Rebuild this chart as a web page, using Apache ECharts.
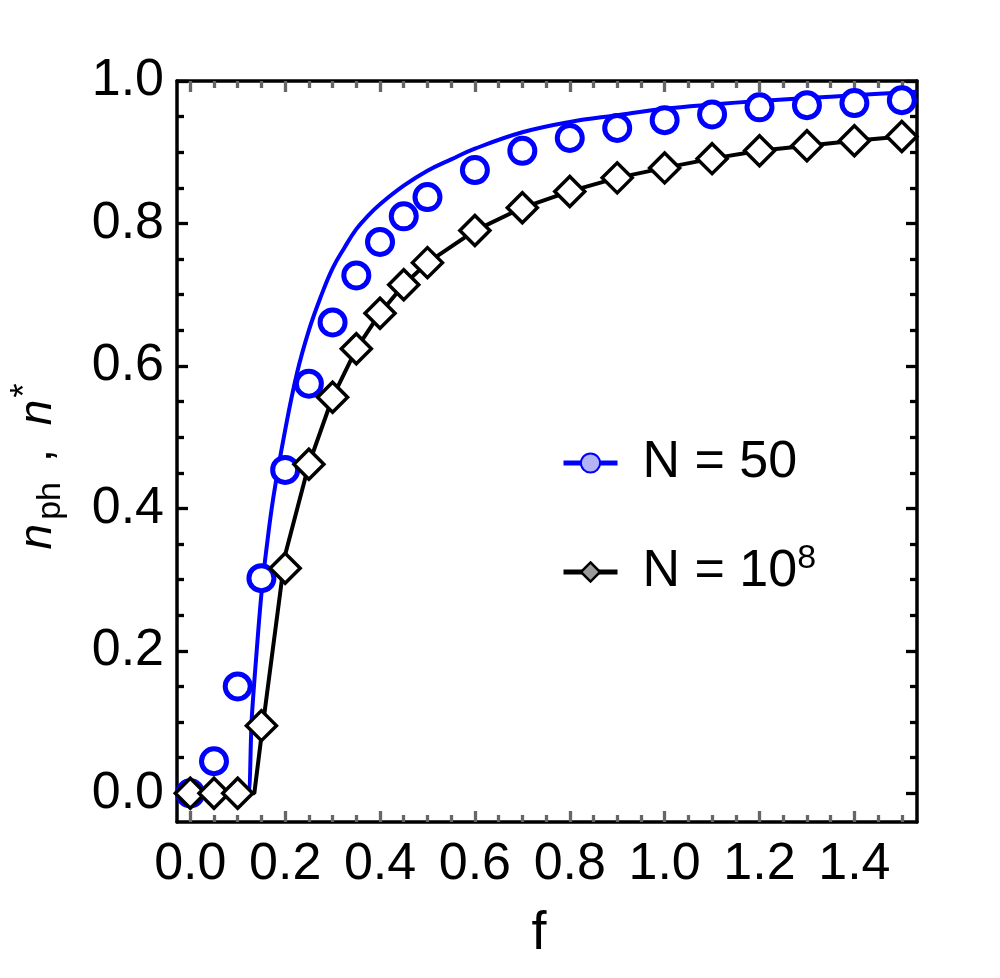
<!DOCTYPE html>
<html>
<head>
<meta charset="utf-8">
<script src="https://cdn.jsdelivr.net/npm/echarts@6.0.0/dist/echarts.min.js"></script>
<style>
  html, body { margin: 0; padding: 0; background: #fff; }
  #chart { width: 1000px; height: 978px; }
</style>
</head>
<body>
<div id="chart"></div>
<script>
// simulation points
const fPoints = [0, 0.05, 0.1, 0.15, 0.2, 0.25, 0.3, 0.35, 0.4, 0.45, 0.5, 0.6, 0.7, 0.8, 0.9, 1.0, 1.1, 1.2, 1.3, 1.4, 1.5];
const n50 = [0.0, 0.045, 0.150, 0.302, 0.454, 0.575, 0.661, 0.727, 0.774, 0.810, 0.837, 0.875, 0.902, 0.920, 0.934, 0.945, 0.953, 0.963, 0.966, 0.969, 0.973];
const nBig = [0, 0, 0, 0.095, 0.316, 0.462, 0.556, 0.624, 0.674, 0.714, 0.745, 0.790, 0.822, 0.845, 0.864, 0.878, 0.891, 0.902, 0.909, 0.916, 0.922];

// blue curve (N = 50)
const fCurve50 = [0, 0.112, 0.121, 0.13, 0.14, 0.15, 0.16, 0.175, 0.2, 0.225, 0.25, 0.275, 0.3, 0.325, 0.35, 0.375, 0.4, 0.45, 0.5, 0.55, 0.6, 0.7, 0.8, 0.9, 1.0, 1.1, 1.2, 1.3, 1.4, 1.531];
const nCurve50 = [0, 0, 0.0, 0.11, 0.2, 0.28, 0.34, 0.415, 0.51, 0.59, 0.65, 0.697, 0.737, 0.766, 0.792, 0.811, 0.827, 0.853, 0.874, 0.890, 0.905, 0.928, 0.9425, 0.952, 0.961, 0.967, 0.972, 0.976, 0.98, 0.985];

// black line (N = 10^8)
const fLineBig = [0, 0.05, 0.1, 0.135, 0.15, 0.2, 0.25, 0.3, 0.35, 0.4, 0.45, 0.5, 0.6, 0.7, 0.8, 0.9, 1.0, 1.1, 1.2, 1.3, 1.4, 1.5];
const nLineBig = [0, 0, 0, 0, 0.08, 0.335, 0.462, 0.556, 0.624, 0.674, 0.714, 0.745, 0.790, 0.822, 0.845, 0.864, 0.878, 0.891, 0.902, 0.909, 0.916, 0.922];

// ticks
const xMajor = [0, 0.2, 0.4, 0.6, 0.8, 1.0, 1.2, 1.4];
const xMinor = [0.05, 0.1, 0.15, 0.25, 0.3, 0.35, 0.45, 0.5, 0.55, 0.65, 0.7, 0.75, 0.85, 0.9, 0.95, 1.05, 1.1, 1.15, 1.25, 1.3, 1.35, 1.45, 1.5];
const yMajor = [0, 0.2, 0.4, 0.6, 0.8, 1.0];
const yMinor = [0.05, 0.1, 0.15, 0.25, 0.3, 0.35, 0.45, 0.5, 0.55, 0.65, 0.7, 0.75, 0.85, 0.9, 0.95];

const legendNames = { 'N = 50': 'N = 50', 'N = 1e8': 'N = 10{sup|8}' };

const font = 'Liberation Sans, Arial, sans-serif';
const xMin = -0.028, xMax = 1.532, yMin = -0.0403, yMax = 1.0;

function zip(xs, ys) { return xs.map((x, i) => [x, ys[i]]); }

function xAx(pos, ticks, len, withLine, withLabel) {
  return {
    type: 'value', position: pos, min: xMin, max: xMax,
    splitLine: { show: false },
    axisLine: { show: withLine, onZero: false, lineStyle: { color: '#000', width: 3.5 } },
    axisTick: { show: true, inside: true, length: len, customValues: ticks,
                lineStyle: { color: '#666', width: 3.3 } },
    axisLabel: withLabel ? {
      show: true, customValues: xMajor, margin: 17,
      fontFamily: font, fontSize: 52, lineHeight: 52, color: '#000',
      formatter: v => v.toFixed(1)
    } : { show: false },
    name: withLabel ? 'f' : '',
    nameLocation: 'middle', nameGap: 82,
    nameTextStyle: { fontFamily: font, fontSize: 54, lineHeight: 60, color: '#000', padding: [0, 16, 0, 0] }
  };
}

function yAx(pos, ticks, len, withLine, withLabel) {
  return {
    type: 'value', position: pos, min: yMin, max: yMax,
    splitLine: { show: false },
    axisLine: { show: withLine, onZero: false, lineStyle: { color: '#000', width: 3.5 } },
    axisTick: { show: true, inside: true, length: len, customValues: ticks,
                lineStyle: { color: '#000', width: 3.3 } },
    axisLabel: withLabel ? {
      show: true, customValues: yMajor, margin: 13,
      fontFamily: font, fontSize: 52, color: '#000',
      formatter: v => v.toFixed(1)
    } : { show: false },
    name: withLabel ? '{i|n}{sub|ph}{c|,}{i|n}{sup|*}' : '',
    nameLocation: 'middle', nameGap: 109, nameRotate: 90,
    nameTextStyle: {
      fontFamily: font, color: '#000', padding: [0, 30, 0, 0],
      rich: {
        i: { fontFamily: font, fontStyle: 'italic', fontSize: 46, lineHeight: 60, color: '#000' },
        sub: { fontFamily: font, fontSize: 34, lineHeight: 38, verticalAlign: 'bottom', color: '#000', padding: [0, 0, 0, 4] },
        c: { fontFamily: font, fontSize: 46, lineHeight: 60, color: '#000', padding: [0, 24, 0, 20] },
        sup: { fontFamily: font, fontSize: 36, lineHeight: 30, verticalAlign: 'top', color: '#000', padding: [0, 0, 0, 2] }
      }
    }
  };
}

const chart = echarts.init(document.getElementById('chart'));

chart.setOption({
  animation: false,
  backgroundColor: '#fff',
  grid: { left: 176, right: 83, top: 81, bottom: 156 },
  xAxis: [
    xAx('bottom', xMajor, 11, true, true),
    xAx('bottom', xMinor, 7, false, false),
    xAx('top', xMajor, 11, true, false),
    xAx('top', xMinor, 7, false, false)
  ],
  yAxis: [
    yAx('left', yMajor, 11, true, true),
    yAx('left', yMinor, 7, false, false),
    yAx('right', yMajor, 11, true, false),
    yAx('right', yMinor, 7, false, false)
  ],
  legend: {
    orient: 'vertical', left: 556, top: 428, itemGap: 49,
    itemWidth: 54, itemHeight: 24,
    formatter: name => legendNames[name],
    textStyle: {
      fontFamily: font, fontSize: 52, lineHeight: 60, color: '#000', padding: [0, 0, 0, 20],
      rich: { sup: { fontFamily: font, fontSize: 34, lineHeight: 24, verticalAlign: 'top', color: '#000' } }
    },
    data: [
      { name: 'N = 50', itemStyle: { color: '#b4b4f4', borderColor: '#0000ff', borderWidth: 2 }, lineStyle: { width: 5 } },
      { name: 'N = 1e8', itemStyle: { color: '#9a9a9a', borderColor: '#000', borderWidth: 2.5 }, lineStyle: { width: 5 } }
    ]
  },
  series: [
    {
      name: 'N = 50', type: 'line', z: 1,
      data: zip(fCurve50, nCurve50),
      smooth: 0.4,
      symbol: 'circle', showSymbol: false,
      lineStyle: { color: '#0000ff', width: 4 },
      itemStyle: { color: '#0000ff' }
    },
    {
      name: 'N = 1e8', type: 'line', z: 2,
      data: zip(fLineBig, nLineBig),
      symbol: 'diamond', showSymbol: false,
      lineStyle: { color: '#000', width: 4 },
      itemStyle: { color: '#000' }
    },
    {
      name: 'sim50', type: 'scatter', z: 3,
      data: zip(fPoints, n50),
      symbol: 'circle', symbolSize: 25,
      itemStyle: { color: '#fff', borderColor: '#0000ff', borderWidth: 5, opacity: 1 }
    },
    {
      name: 'simBig', type: 'scatter', z: 4,
      data: zip(fPoints, nBig),
      symbol: 'diamond', symbolSize: 30,
      itemStyle: { color: '#fff', borderColor: '#000', borderWidth: 3.5, opacity: 1 }
    }
  ]
});
</script>
</body>
</html>
